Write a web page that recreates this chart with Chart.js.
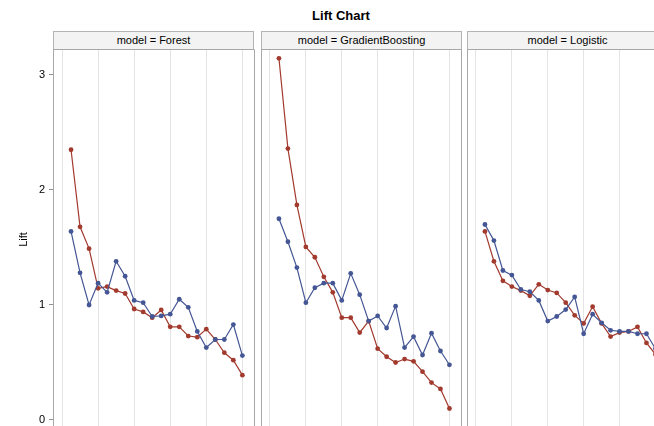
<!DOCTYPE html>
<html>
<head>
<meta charset="utf-8">
<title>Lift Chart</title>
<script src="https://cdn.jsdelivr.net/npm/chart.js@4/dist/chart.umd.min.js"></script>
<style>
    html, body { margin: 0; padding: 0; background: #fff; overflow: hidden; }
    body { width: 654px; height: 426px; position: relative; font-family: "Liberation Sans", Arial, sans-serif; }
    #title { position: absolute; left: 0; top: 8px; width: 682px; text-align: center; font-weight: bold; font-size: 13px; color: #000; }
    .strip { position: absolute; top: 31px; height: 17px; width: 199px; background: #f3f3f3; border: 1px solid #b4b4b4; font-size: 11px; line-height: 17px; text-align: center; color: #000; }
    .panel { position: absolute; top: 49px; height: 381px; }
</style>
</head>
<body>
<div id="title">Lift Chart</div>

<div class="strip" style="left:53px">model = Forest</div>
<div class="strip" style="left:261px">model = GradientBoosting</div>
<div class="strip" style="left:467px">model = Logistic</div>

<div class="panel" style="left:0; width:255px"><canvas id="forest"></canvas></div>
<div class="panel" style="left:261px; width:201px"><canvas id="gradient"></canvas></div>
<div class="panel" style="left:467px; width:201px"><canvas id="logistic"></canvas></div>

<script>
'use strict';

// depth (%) of each bin
const depths = [5, 10, 15, 20, 25, 30, 35, 40, 45, 50, 55, 60, 65, 70, 75, 80, 85, 90, 95, 100];
const xGrid = [0, 20, 40, 60, 80, 100];
const yTicks = [0, 1, 2, 3];

// lift values
const forestBlue = [1.64, 1.28, 1.00, 1.19, 1.11, 1.38, 1.25, 1.04, 1.02, 0.90, 0.905, 0.92, 1.05, 0.98, 0.77, 0.63, 0.70, 0.70, 0.83, 0.56];
const forestRed = [2.35, 1.68, 1.49, 1.145, 1.16, 1.125, 1.10, 0.965, 0.94, 0.89, 0.957, 0.81, 0.81, 0.73, 0.72, 0.79, 0.70, 0.585, 0.52, 0.39];

const gbBlue = [1.75, 1.55, 1.325, 1.02, 1.15, 1.19, 1.19, 1.04, 1.275, 1.09, 0.86, 0.905, 0.80, 0.99, 0.63, 0.725, 0.565, 0.755, 0.60, 0.48];
const gbRed = [3.145, 2.36, 1.87, 1.505, 1.415, 1.245, 1.11, 0.89, 0.89, 0.76, 0.86, 0.62, 0.55, 0.50, 0.53, 0.51, 0.42, 0.325, 0.27, 0.10];

const logBlue = [1.70, 1.56, 1.30, 1.26, 1.135, 1.115, 1.04, 0.86, 0.90, 0.96, 1.07, 0.75, 0.92, 0.845, 0.78, 0.77, 0.77, 0.75, 0.75, 0.62];
const logRed = [1.64, 1.38, 1.21, 1.16, 1.125, 1.08, 1.18, 1.13, 1.105, 1.02, 0.91, 0.84, 0.985, 0.84, 0.725, 0.76, 0.77, 0.81, 0.67, 0.57];

const BLUE = '#445694';
const RED = '#A23A2E';

// frame round the plot area (bottom edge is off the picture)
const boxPlugin = {
    id: 'box',
    afterDraw(chart) {
        const a = chart.chartArea;
        const ctx = chart.ctx;
        ctx.save();
        ctx.strokeStyle = '#a8a8a8';
        ctx.lineWidth = 1;
        ctx.beginPath();
        ctx.moveTo(a.left + 0.5, a.bottom);
        ctx.lineTo(a.left + 0.5, a.top + 0.5);
        ctx.lineTo(a.right - 0.5, a.top + 0.5);
        ctx.lineTo(a.right - 0.5, a.bottom);
        ctx.stroke();
        ctx.restore();
    }
};

function series(values, color) {
    return {
        data: depths.map((d, i) => ({ x: d, y: values[i] })),
        borderColor: color,
        backgroundColor: color,
        borderWidth: 1.2,
        pointRadius: 2.4,
        pointBorderWidth: 0,
        pointHoverRadius: 2.4,
        tension: 0
    };
}

function makePanel(id, blue, red, showY) {
    const ctx = document.getElementById(id).getContext('2d');
    return new Chart(ctx, {
        type: 'line',
        data: { datasets: [series(blue, BLUE), series(red, RED)] },
        options: {
            responsive: true,
            maintainAspectRatio: false,
            animation: false,
            layout: { padding: 0, autoPadding: false },
            plugins: { legend: { display: false }, tooltip: { enabled: false }, title: { display: false } },
            scales: {
                x: {
                    type: 'linear',
                    min: -5,
                    max: 107,
                    afterBuildTicks: axis => { axis.ticks = xGrid.map(v => ({ value: v })); },
                    afterFit: axis => { axis.height = 0; axis.paddingLeft = 0; axis.paddingRight = 0; },
                    ticks: { display: false },
                    border: { display: false },
                    grid: { color: '#e4e4e4', lineWidth: 1, drawTicks: false }
                },
                y: {
                    display: showY,
                    min: -0.087,
                    max: 3.226,
                    afterBuildTicks: axis => { axis.ticks = yTicks.map(v => ({ value: v })); },
                    afterFit: axis => { axis.width = showY ? 53 : 0; axis.paddingTop = 0; axis.paddingBottom = 0; },
                    border: { display: false },
                    grid: { drawOnChartArea: false, tickLength: 4, color: '#909090' },
                    ticks: { color: '#000', padding: 4, font: { family: 'Liberation Sans', size: 11 } },
                    title: { display: true, text: 'Lift', color: '#000', padding: { top: 17 }, font: { family: 'Liberation Sans', size: 11 } }
                }
            }
        },
        plugins: [boxPlugin]
    });
}

makePanel('forest', forestBlue, forestRed, true);
makePanel('gradient', gbBlue, gbRed, false);
makePanel('logistic', logBlue, logRed, false);
</script>
</body>
</html>
